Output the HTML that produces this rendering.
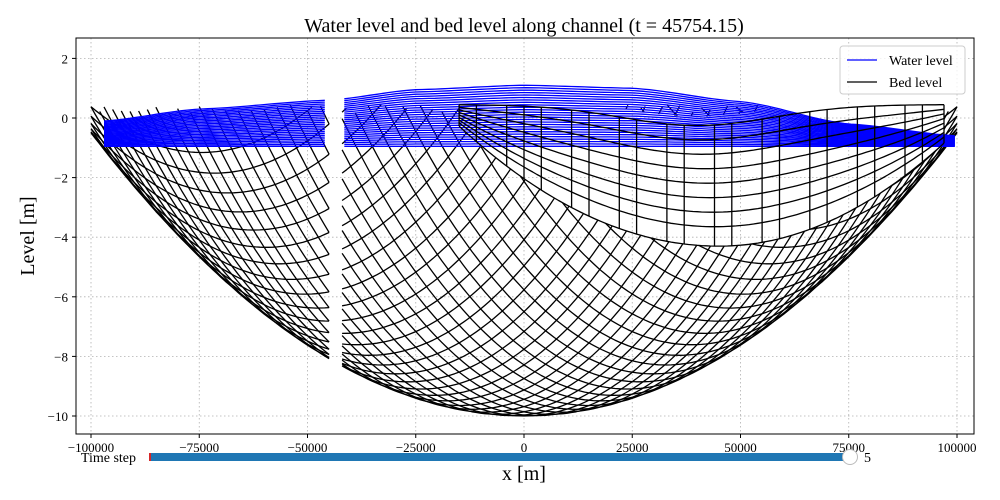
<!DOCTYPE html>
<html><head><meta charset="utf-8"><style>
body{margin:0;background:#fff}
svg{display:block;font-family:"Liberation Serif",serif}
</style></head><body>
<svg id="c" width="1000" height="500">
<defs>
<clipPath id="pc"><rect x="76" y="38" width="898" height="396"/></clipPath>
<mask id="gridMask" maskUnits="userSpaceOnUse" x="0" y="0" width="1000" height="500">
<rect x="0" y="0" width="1000" height="500" fill="#fff"/>
<polygon id="maskPoly" fill="#000"/>
</mask>
</defs>
<text x="524" y="32" text-anchor="middle" font-size="20">Water level and bed level along channel (t = 45754.15)</text>
<g id="grid"></g>
<g clip-path="url(#pc)">
<g id="bed" mask="url(#gridMask)"></g>
<g id="water"></g>
<g id="bed2"></g>
</g>
<rect x="76" y="38" width="898" height="396" fill="none" stroke="#000" stroke-width="1"/>
<g id="axes"></g>
<text x="524" y="480" text-anchor="middle" font-size="20">x [m]</text>
<text transform="translate(34,236) rotate(-90)" text-anchor="middle" font-size="20">Level [m]</text>
<g>
<rect x="840" y="46" width="125" height="48" rx="3" fill="#fff" fill-opacity="0.8" stroke="#ccc"/>
<line x1="847" y1="60" x2="877" y2="60" stroke="#0000ff" stroke-width="1.3"/>
<text x="889" y="65" font-size="14">Water level</text>
<line x1="847" y1="82" x2="877" y2="82" stroke="#000" stroke-width="1.3"/>
<text x="889" y="87" font-size="14">Bed level</text>
</g>
<g>
<text x="136" y="462" text-anchor="end" font-size="14">Time step</text>
<rect x="150" y="453" width="700" height="8" fill="#1f77b4"/>
<rect x="149" y="453" width="2" height="8" fill="#d62728"/>
<circle cx="850" cy="457" r="7.5" fill="#fff" stroke="#bbb"/>
<text x="864" y="462" font-size="14">5</text>
</g>
</svg>
<script>
const xTicks=[-100000,-75000,-50000,-25000,0,25000,50000,75000,100000];
const yTicks=[2,0,-2,-4,-6,-8,-10];
const bedTangents=[-1.25,-1.2,-1.15,-1.1,-1.05,-1.0,-0.95,-0.9,-0.85,-0.8,-0.75,-0.7,-0.65,-0.6,-0.55,-0.5,-0.45,-0.4,-0.35,-0.3,-0.25,-0.2,-0.15,-0.1,-0.05,0,0.05,0.1,0.15,0.2,0.25,0.3,0.35,0.4,0.45,0.5,0.55,0.6,0.65,0.7,0.75,0.8,0.85,0.9,0.95,1.0,1.05,1.1,1.15,1.2,1.25];
const bedCurv=[14];
const bedMaxDepth=[10];
const waterKeyX=[-97000,-75000,-45000,-25000,0,25000,50000,75000,100000];
const waterKeyTop=[-0.1,0.3,0.6,0.95,1.1,1.0,0.55,-0.2,-0.6];
const waterBottom=[-0.95];
const waterFrac=[0,0.04,0.08,0.12,0.16,0.2,0.24,0.28,0.32,0.36,0.4,0.44,0.48,0.52,0.56,0.6,0.64,0.68,0.72,0.76,0.8,0.84,0.88,0.92,0.96,1.0];
const gridVertX=[-15000,-11000,-4000,0,4000,11000,15000,22000,26000,33000,37000,44000,48000,55000,59000,66000,70000,77000,81000,88000,92000,97000];
const gridLevels=[0,0.12,0.24,0.36,0.48,0.6,0.72,0.84,1.0];
const X=v=>524+v*433/100000;
const Y=v=>118-v*29.8;
const ns='http://www.w3.org/2000/svg';
function mk(t,a,p){const e=document.createElementNS(ns,t);for(const k in a)e.setAttribute(k,a[k]);p.appendChild(e);return e;}
const grid=document.getElementById('grid'),axes=document.getElementById('axes');
xTicks.forEach(t=>{
 const g=mk('line',{x1:X(t),x2:X(t),y1:38,y2:434,stroke:'#b0b0b0','stroke-dasharray':'1.5,2.5','stroke-width':0.8},grid);
 
 mk('line',{x1:X(t),x2:X(t),y1:434,y2:438,stroke:'#000'},axes);
 const l=mk('text',{x:X(t),y:452,'text-anchor':'middle','font-size':13},axes);l.textContent=t<0?'\u2212'+(-t):String(t);
 
});
yTicks.forEach(t=>{
 const g=mk('line',{x1:76,x2:974,y1:Y(t),y2:Y(t),stroke:'#b0b0b0','stroke-dasharray':'1.5,2.5','stroke-width':0.8},grid);
 
 mk('line',{x1:72,x2:76,y1:Y(t),y2:Y(t),stroke:'#000'},axes);
 const l=mk('text',{x:68,y:Y(t)+5,'text-anchor':'end','font-size':13},axes);l.textContent=t<0?'\u2212'+(-t):String(t);
 
});
const GAP_L=-45000,GAP_R=-42000;
function drawSegs(pts,par,col,name){
 let seg=[];const segs=[];
 pts.forEach(p=>{if(p==null||(p[0]>GAP_L&&p[0]<GAP_R)){if(seg.length>1)segs.push(seg);seg=[];}else seg.push(p);});
 if(seg.length>1)segs.push(seg);
 segs.forEach(s=>{const e=mk('polyline',{points:s.map(p=>X(p[0]).toFixed(1)+','+Y(p[1]).toFixed(1)).join(' '),fill:'none',stroke:col,'stroke-width':1.3,'stroke-linejoin':'round'},par);
 });
}
function interp(xs,ys,x){for(let i=0;i<xs.length-1;i++){if(x<=xs[i+1]){const t=(x-xs[i])/(xs[i+1]-xs[i]);const s=t*t*(3-2*t);return ys[i]+(ys[i+1]-ys[i])*(0.5*t+0.5*s);}}return ys[ys.length-1];}
const wg=document.getElementById('water');
waterFrac.forEach(f=>{
 const pts=[];for(let x=-97000;x<=100000;x+=1500){
  if(x>GAP_L&&x<GAP_R){pts.push(null);continue;}
  const top=interp(waterKeyX,waterKeyTop,x);pts.push([x,waterBottom[0]+f*(top-waterBottom[0])]);}
 drawSegs(pts,wg,'#0000ff','water-level-line');
});
const bg=document.getElementById('bed');
const D=bedMaxDepth[0],C=bedCurv[0];
function env(u){return -D+D*u*u-0.5*u*u;}
bedTangents.forEach(uk=>{
 const pts=[];
 for(let x=-100000;x<=100000;x+=1000){const u=x/100000;
  if(x>GAP_L&&x<GAP_R){pts.push(null);continue;}
  const z=env(u)+C*(u-uk)*(u-uk);
  if(z>0.45){pts.push(null);continue;}
  pts.push([x,z]);}
 drawSegs(pts,bg,'#000','bed-level-line');
});
function T(x){return 0.45-0.7*Math.exp(-Math.pow((x-40000)/25000,2));}
function B(x){const w=x<45000?62000:58000;return -4.3*(1-Math.pow((x-45000)/w,2));}
const x0=gridVertX[0],x1=gridVertX[gridVertX.length-1];
const poly=[];
for(let x=x0;x<=x1;x+=1000)poly.push(X(x).toFixed(1)+','+Y(T(x)+0.3).toFixed(1));
for(let x=x1;x>=x0;x-=1000)poly.push(X(x).toFixed(1)+','+Y(B(x)).toFixed(1));
document.getElementById('maskPoly').setAttribute('points',poly.join(' '));
const g2=document.getElementById('bed2');
gridLevels.forEach(f=>{
 const pts=[];for(let x=x0;x<=x1;x+=1000)pts.push([x,T(x)+f*(B(x)-T(x))]);
 drawSegs(pts,g2,'#000','bed-grid-curve');
});
gridVertX.forEach(x=>{
 drawSegs([[x,T(x)],[x,B(x)]],g2,'#000','bed-grid-vertical');
});
</script>
</body></html>
